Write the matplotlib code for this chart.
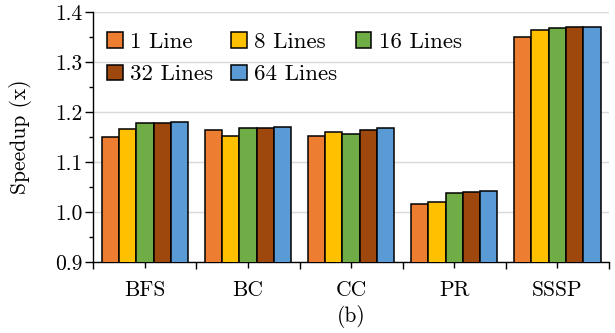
import numpy as np
import matplotlib
matplotlib.use("Agg")
import matplotlib.pyplot as plt
from matplotlib.ticker import FormatStrFormatter, MultipleLocator, FixedLocator

plt.rcParams["font.family"] = "serif"
plt.rcParams["font.serif"] = ["cmr10"]
plt.rcParams["axes.formatter.use_mathtext"] = True
plt.rcParams["mathtext.fontset"] = "cm"

categories = ["BFS", "BC", "CC", "PR", "SSSP"]
series_names = ["1 Line", "8 Lines", "16 Lines", "32 Lines", "64 Lines"]
line_1 = [1.151, 1.165, 1.152, 1.016, 1.350]
line_8 = [1.166, 1.152, 1.161, 1.021, 1.365]
line_16 = [1.178, 1.168, 1.156, 1.038, 1.369]
line_32 = [1.179, 1.168, 1.165, 1.040, 1.370]
line_64 = [1.180, 1.170, 1.169, 1.042, 1.371]
series_values = [line_1, line_8, line_16, line_32, line_64]
colors = ["#ED7D31", "#FFC000", "#70AD47", "#9E480E", "#5B9BD5"]

FS = 15.5
LEG_FS = 16.5

fig = plt.figure(figsize=(6.15, 3.33), dpi=100)
ax = fig.add_axes([0.1517, 0.2132, 0.8383, 0.7498])

x = np.arange(len(categories))
width = 0.168
n = len(series_names)
handles = []
for i, (name, vals, c) in enumerate(zip(series_names, series_values, colors)):
    offs = (i - (n - 1) / 2) * width
    h = ax.bar(x + offs, vals, width, color=c, edgecolor="black", linewidth=1.1,
               label=name, zorder=3)
    handles.append(h)

ax.set_ylim(0.9, 1.4)
ax.set_xlim(-0.5, len(categories) - 0.5)
ax.yaxis.set_major_locator(MultipleLocator(0.1))
ax.yaxis.set_minor_locator(MultipleLocator(0.05))
ax.yaxis.set_major_formatter(FormatStrFormatter("%.1f"))
ax.set_xticks(x)
ax.set_xticklabels(categories)
ax.xaxis.set_minor_locator(FixedLocator(np.arange(-0.5, len(categories), 1.0)))

ax.tick_params(axis="y", which="major", length=6, width=1.0, labelsize=FS, pad=2)
ax.tick_params(axis="y", which="minor", length=3, width=1.0)
ax.tick_params(axis="x", which="major", length=4, width=1.0, labelsize=FS, pad=9)
ax.tick_params(axis="x", which="minor", length=5, width=1.0)

for s in ["top", "right"]:
    ax.spines[s].set_visible(False)
for s in ["left", "bottom"]:
    ax.spines[s].set_linewidth(1.0)

ax.yaxis.grid(True, which="major", color="#d9d9d9", linewidth=1.0, zorder=0)
ax.set_axisbelow(True)

ax.set_ylabel("Speedup (x)", fontsize=FS)
ax.yaxis.set_label_coords(-0.119, 0.5)
ax.set_xlabel("(b)", fontsize=FS, labelpad=4)

# column-major fill so rows read 1/8/16 then 32/64
order = [0, 3, 1, 4, 2]
ax.legend([handles[i] for i in order], [series_names[i] for i in order],
          ncol=3, loc="upper left", bbox_to_anchor=(0.027, 0.922), frameon=False,
          fontsize=LEG_FS, handlelength=0.68, handleheight=0.68, handletextpad=0.32,
          columnspacing=0.8, labelspacing=0.56, borderpad=0, borderaxespad=0)

fig.savefig("out.png", dpi=100)
